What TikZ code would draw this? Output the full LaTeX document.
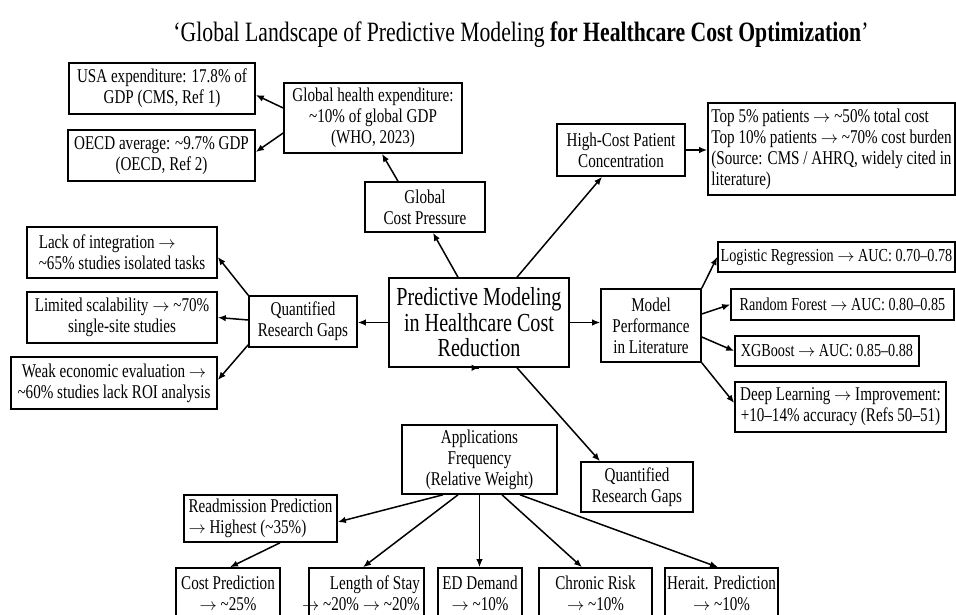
\documentclass[tikz,border=0pt]{standalone}
\usepackage{fontspec}
\setmainfont[FakeStretch=0.775]{Liberation Serif}
\usetikzlibrary{arrows.meta}
\newcommand{\ra}{{\fontsize{17}{17}\selectfont$\rightarrow$}}
\tikzset{
  bx/.style={draw=black, line width=1.6pt, inner sep=0pt, align=center,
    font=\fontsize{19.5}{21}\selectfont},
  bxl/.style={bx, align=left},
  bxs/.style={bx, font=\fontsize{18.3}{21}\selectfont},
  arr/.style={line width=1.5pt, -{Latex[length=8pt,width=6.5pt]}},
}
\begin{document}
\begin{tikzpicture}[x=1pt,y=-1pt]
\fill[white] (0,0) rectangle (956,615);
\clip (0,0) rectangle (956,615);
\useasboundingbox (0,0) rectangle (956,615);

% title
\node[font=\fontsize{28}{30}\selectfont, inner sep=0pt] (title) at (521,35)
  {‘Global Landscape of Predictive Modeling \textbf{for Healthcare Cost Optimization}’};

% top-left cluster
\node[bx, minimum width=186pt, minimum height=51pt] (usa) at (162,88.5)
  {USA expenditure: 17.8\% of\\GDP (CMS, Ref 1)};
\node[bx, minimum width=187pt, minimum height=51pt] (oecd) at (161.5,155.5)
  {OECD average: \textasciitilde9.7\% GDP\\(OECD, Ref 2)};
\node[bx, minimum width=178pt, minimum height=70pt] (ghe) at (373,118)
  {Global health expenditure:\\\textasciitilde10\% of global GDP\\(WHO, 2023)};
\node[bx, minimum width=120pt, minimum height=50pt] (gcp) at (425,207)
  {Global\\Cost Pressure};

% top-right cluster
\node[bx, minimum width=128pt, minimum height=52pt] (hcp) at (621,150)
  {High-Cost Patient\\Concentration};
\node[bxl, minimum width=247pt, minimum height=92pt] (top) at (831.5,149)
  {Top 5\% patients \ra{} \textasciitilde50\% total cost\\Top 10\% patients \ra{} \textasciitilde70\% cost burden\\(Source: CMS / AHRQ, widely cited in\\literature)};

% center
\node[bx, minimum width=180pt, minimum height=89pt, font=\fontsize{26}{25.5}\selectfont] (ctr) at (479,322.5)
  {Predictive Modeling\\in Healthcare Cost\\Reduction};

% left cluster
\node[bx, minimum width=108pt, minimum height=51pt] (qrg) at (303,321.5)
  {Quantified\\Research Gaps};
\node[bxl, minimum width=190pt, minimum height=51pt] (lack) at (122,252.5)
  {Lack of integration \ra\\\textasciitilde65\% studies isolated tasks};
\node[bx, minimum width=190pt, minimum height=51pt] (lim) at (122,317.5)
  {Limited scalability \ra{} \textasciitilde70\%\\single-site studies};
\node[bx, minimum width=206pt, minimum height=52pt] (weak) at (114,383)
  {Weak economic evaluation \ra\\\textasciitilde60\% studies lack ROI analysis};

% right cluster
\node[bx, minimum width=100pt, minimum height=73pt] (mp) at (651,325.5)
  {Model\\Performance\\in Literature};
\node[bxs, minimum width=237pt, minimum height=30pt] (lr) at (836.5,257)
  {Logistic Regression \ra{} AUC: 0.70–0.78};
\node[bxs, minimum width=223pt, minimum height=31pt] (rf) at (842.5,304.5)
  {Random Forest \ra{} AUC: 0.80–0.85};
\node[bxs, minimum width=184pt, minimum height=30pt] (xgb) at (827,351)
  {XGBoost \ra{} AUC: 0.85–0.88};
\node[bx, minimum width=211pt, minimum height=50pt] (dl) at (840.5,407)
  {Deep Learning \ra{} Improvement:\\+10–14\% accuracy (Refs 50–51)};

% lower cluster
\node[bx, minimum width=155pt, minimum height=69pt] (app) at (479.5,459.5)
  {Applications\\Frequency\\(Relative Weight)};
\node[bx, minimum width=112pt, minimum height=50pt] (qrg2) at (637,487)
  {Quantified\\Research Gaps};
\node[bxl, minimum width=153pt, minimum height=47pt] (readm) at (260.5,518.5)
  {Readmission Prediction\\\ra{} Highest (\textasciitilde35\%)};

\node[bx, minimum width=104pt, minimum height=51pt] (costp) at (228,593.5)
  {Cost Prediction\\\ra{} \textasciitilde25\%};
\node[bx, minimum width=115pt, minimum height=51pt] (los) at (366.5,593.5) {};
\node[font=\fontsize{19.5}{21}\selectfont, align=right, inner sep=0pt, anchor=east] (lostxt) at (420,593.5)
  {Length of Stay\\\ra{} \textasciitilde20\% \ra{} \textasciitilde20\%};
\node[bx, minimum width=84pt, minimum height=51pt] (ed) at (480,593.5)
  {ED Demand\\\ra{} \textasciitilde10\%};
\node[bx, minimum width=113pt, minimum height=51pt] (chr) at (595.5,593.5)
  {Chronic Risk\\\ra{} \textasciitilde10\%};
\node[bx, minimum width=113pt, minimum height=51pt] (her) at (721.5,593.5)
  {Herait. Prediction\\\ra{} \textasciitilde10\%};

% connectors
\draw[arr] ([yshift=10pt]ghe.west) -- ([yshift=-6.5pt]usa.east);
\draw[arr] ([yshift=-15pt]ghe.west) -- ([yshift=3.5pt]oecd.east);
\draw[arr] ([xshift=-27pt]gcp.north) -- ([xshift=9pt]ghe.south);
\draw[arr] ([xshift=-21pt]ctr.north) -- ([xshift=8pt]gcp.south);
\draw[arr] ([xshift=38pt]ctr.north) -- ([xshift=-19pt]hcp.south);
\draw[arr] (hcp.east) -- (hcp.east -| top.west);

\draw[arr] (ctr.west) -- (ctr.west -| qrg.east);
\draw[arr] (ctr.east) -- (ctr.east -| mp.west);

\draw[arr] (qrg.north west) -- ([yshift=-4.5pt]lack.east);
\draw[arr] ([yshift=1.5pt]qrg.west) -- (lim.east);
\draw[arr] ([yshift=3pt]qrg.south west) -- ([yshift=3pt]weak.east);

\draw[arr] (mp.north east) -- (lr.west);
\draw[arr] ([yshift=11.5pt]mp.east) -- (rf.west);
\draw[arr] ([yshift=-11.5pt]mp.east) -- (xgb.west);
\draw[arr] (mp.south east) -- ([yshift=4pt]dl.west);

\draw[arr] (ctr.south) -- (ctr.south -| app.north);
\draw[arr] ([xshift=38pt]ctr.south) -- ([xshift=-37pt]qrg2.north);

\draw[arr] ([xshift=-36.5pt]app.south) -- ([yshift=-3.5pt]readm.east);
\draw[arr] ([xshift=-21.5pt]app.south) -- ([xshift=-3.5pt]los.north);
\draw[arr] (app.south) -- (app.south |- ed.north);
\draw[arr] ([xshift=22.5pt]app.south) -- ([xshift=-13.5pt]chr.north);
\draw[arr] ([xshift=40.5pt]app.south) -- ([xshift=-3.5pt]her.north);
\draw[arr] ([xshift=19.5pt]readm.south) -- ([xshift=2pt]costp.north);
\end{tikzpicture}
\end{document}
